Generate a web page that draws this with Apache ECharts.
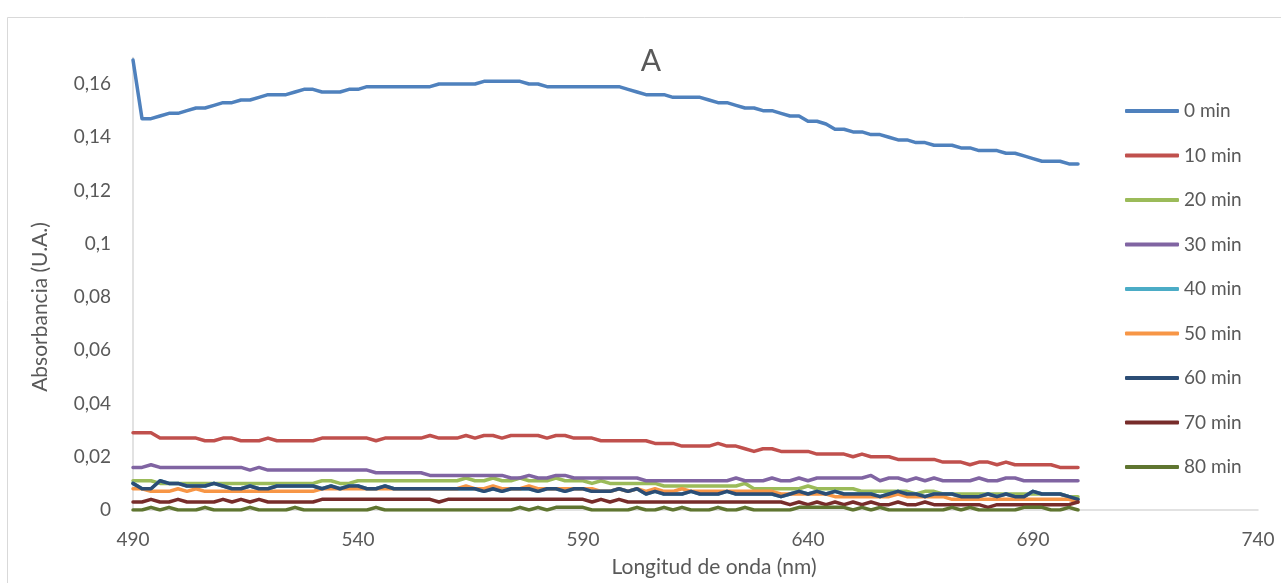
<!DOCTYPE html>
<html>
<head>
<meta charset="utf-8">
<title>Absorbancia</title>
<script src="https://cdn.jsdelivr.net/npm/echarts@6/dist/echarts.min.js"></script>
<style>
  html, body { margin: 0; padding: 0; background: #fff; }
  #chart { width: 1281px; height: 583px; }
</style>
</head>
<body>
<div id="chart"></div>
<script>
  // longitud de onda (nm), every 2 nm
  const wavelengths = [
    490, 492, 494, 496, 498, 500, 502, 504, 506, 508,
    510, 512, 514, 516, 518, 520, 522, 524, 526, 528,
    530, 532, 534, 536, 538, 540, 542, 544, 546, 548,
    550, 552, 554, 556, 558, 560, 562, 564, 566, 568,
    570, 572, 574, 576, 578, 580, 582, 584, 586, 588,
    590, 592, 594, 596, 598, 600, 602, 604, 606, 608,
    610, 612, 614, 616, 618, 620, 622, 624, 626, 628,
    630, 632, 634, 636, 638, 640, 642, 644, 646, 648,
    650, 652, 654, 656, 658, 660, 662, 664, 666, 668,
    670, 672, 674, 676, 678, 680, 682, 684, 686, 688,
    690, 692, 694, 696, 698, 700
  ];

  // absorbance in thousandths (mU.A.)
  const abs0 = [
    169, 147, 147, 148, 149, 149, 150, 151, 151, 152,
    153, 153, 154, 154, 155, 156, 156, 156, 157, 158,
    158, 157, 157, 157, 158, 158, 159, 159, 159, 159,
    159, 159, 159, 159, 160, 160, 160, 160, 160, 161,
    161, 161, 161, 161, 160, 160, 159, 159, 159, 159,
    159, 159, 159, 159, 159, 158, 157, 156, 156, 156,
    155, 155, 155, 155, 154, 153, 153, 152, 151, 151,
    150, 150, 149, 148, 148, 146, 146, 145, 143, 143,
    142, 142, 141, 141, 140, 139, 139, 138, 138, 137,
    137, 137, 136, 136, 135, 135, 135, 134, 134, 133,
    132, 131, 131, 131, 130, 130
  ];
  const abs10 = [
    29, 29, 29, 27, 27, 27, 27, 27, 26, 26,
    27, 27, 26, 26, 26, 27, 26, 26, 26, 26,
    26, 27, 27, 27, 27, 27, 27, 26, 27, 27,
    27, 27, 27, 28, 27, 27, 27, 28, 27, 28,
    28, 27, 28, 28, 28, 28, 27, 28, 28, 27,
    27, 27, 26, 26, 26, 26, 26, 26, 25, 25,
    25, 24, 24, 24, 24, 25, 24, 24, 23, 22,
    23, 23, 22, 22, 22, 22, 21, 21, 21, 21,
    20, 21, 20, 20, 20, 19, 19, 19, 19, 19,
    18, 18, 18, 17, 18, 18, 17, 18, 17, 17,
    17, 17, 17, 16, 16, 16
  ];
  const abs20 = [
    11, 11, 11, 10, 10, 10, 10, 10, 10, 10,
    10, 10, 10, 10, 10, 10, 10, 10, 10, 10,
    10, 11, 11, 10, 10, 11, 11, 11, 11, 11,
    11, 11, 11, 11, 11, 11, 11, 12, 11, 11,
    12, 11, 11, 12, 11, 11, 11, 12, 11, 11,
    11, 10, 11, 10, 10, 10, 10, 10, 10, 9,
    9, 9, 9, 9, 9, 9, 9, 9, 10, 8,
    8, 8, 8, 8, 8, 9, 8, 8, 8, 8,
    8, 7, 7, 7, 7, 7, 7, 6, 7, 7,
    6, 6, 6, 6, 6, 6, 6, 6, 6, 6,
    6, 6, 6, 6, 5, 5
  ];
  const abs30 = [
    16, 16, 17, 16, 16, 16, 16, 16, 16, 16,
    16, 16, 16, 15, 16, 15, 15, 15, 15, 15,
    15, 15, 15, 15, 15, 15, 15, 14, 14, 14,
    14, 14, 14, 13, 13, 13, 13, 13, 13, 13,
    13, 13, 12, 12, 13, 12, 12, 13, 13, 12,
    12, 12, 12, 12, 12, 12, 12, 11, 11, 11,
    11, 11, 11, 11, 11, 11, 11, 12, 11, 11,
    11, 12, 11, 11, 12, 11, 12, 12, 12, 12,
    12, 12, 13, 11, 12, 12, 11, 12, 11, 12,
    11, 11, 11, 11, 12, 11, 11, 12, 12, 11,
    11, 11, 11, 11, 11, 11
  ];
  const abs50 = [
    8, 8, 7, 7, 7, 8, 7, 8, 7, 7,
    7, 7, 7, 7, 7, 7, 7, 7, 7, 7,
    7, 8, 8, 8, 8, 8, 8, 8, 8, 8,
    8, 8, 8, 8, 8, 8, 8, 9, 8, 8,
    9, 8, 8, 8, 9, 8, 8, 8, 8, 8,
    8, 8, 7, 7, 8, 7, 8, 7, 8, 7,
    7, 8, 7, 7, 7, 7, 7, 7, 7, 7,
    7, 7, 6, 6, 6, 6, 6, 6, 5, 5,
    5, 5, 5, 5, 5, 6, 5, 5, 5, 5,
    5, 4, 4, 4, 4, 4, 4, 4, 4, 4,
    4, 4, 4, 4, 4, 3
  ];
  const abs60 = [
    10, 8, 8, 11, 10, 10, 9, 9, 9, 10,
    9, 8, 8, 9, 8, 8, 9, 9, 9, 9,
    9, 8, 9, 8, 9, 9, 8, 8, 9, 8,
    8, 8, 8, 8, 8, 8, 8, 8, 8, 7,
    8, 7, 8, 8, 8, 7, 8, 8, 7, 8,
    8, 7, 7, 7, 8, 7, 8, 6, 7, 6,
    6, 6, 7, 6, 6, 6, 7, 6, 6, 6,
    6, 6, 5, 6, 7, 6, 7, 6, 7, 6,
    6, 6, 6, 5, 6, 7, 6, 6, 5, 6,
    6, 6, 5, 5, 5, 6, 5, 6, 5, 5,
    7, 6, 6, 6, 5, 4
  ];
  // 40 min is not visible in the picture: it sits under the 60 min trace
  const abs40 = abs60.slice();
  const abs70 = [
    3, 3, 4, 3, 3, 4, 3, 3, 3, 3,
    4, 3, 4, 3, 4, 3, 3, 3, 3, 3,
    3, 4, 4, 4, 4, 4, 4, 4, 4, 4,
    4, 4, 4, 4, 3, 4, 4, 4, 4, 4,
    4, 4, 4, 4, 4, 4, 4, 4, 4, 4,
    4, 3, 4, 3, 4, 3, 3, 3, 3, 3,
    3, 3, 3, 3, 3, 3, 3, 3, 3, 3,
    3, 3, 3, 2, 3, 2, 3, 2, 3, 2,
    3, 2, 3, 2, 2, 3, 2, 2, 3, 2,
    2, 2, 2, 2, 2, 1, 2, 2, 2, 2,
    2, 2, 2, 2, 2, 3
  ];
  const abs80 = [
    0, 0, 1, 0, 1, 0, 0, 0, 1, 0,
    0, 0, 0, 1, 0, 0, 0, 0, 1, 0,
    0, 0, 0, 0, 0, 0, 0, 1, 0, 0,
    0, 0, 0, 0, 0, 0, 0, 0, 0, 0,
    0, 0, 0, 1, 0, 1, 0, 1, 1, 1,
    1, 0, 0, 0, 0, 0, 1, 0, 0, 1,
    0, 1, 0, 0, 0, 1, 0, 0, 1, 0,
    0, 0, 0, 0, 1, 1, 1, 1, 1, 1,
    0, 1, 0, 1, 0, 0, 0, 0, 0, 0,
    0, 1, 0, 1, 0, 0, 0, 0, 0, 1,
    1, 1, 0, 0, 1, 0
  ];

  const seriesNames = ['0 min', '10 min', '20 min', '30 min', '40 min', '50 min', '60 min', '70 min', '80 min'];
  const seriesValues = [abs0, abs10, abs20, abs30, abs40, abs50, abs60, abs70, abs80];
  const colors = ['#4F81BD', '#C0504D', '#9BBB59', '#8064A2', '#4BACC6', '#F79646', '#2C4D75', '#772C2A', '#5F7530'];

  const FONT = 'Lato, "Open Sans", sans-serif';
  const TEXT = '#595959';
  const AXIS = '#D9D9D9';

  let chart = echarts.init(document.getElementById('chart'), null, {renderer: 'canvas'});

  let series = seriesNames.map(function (name, k) {
    return {
      name: name,
      type: 'line',
      symbol: 'none',
      animation: false,
      lineStyle: {width: 3.5, color: colors[k], cap: 'round', join: 'round'},
      itemStyle: {color: colors[k]},
      data: wavelengths.map(function (w, i) { return [w, seriesValues[k][i] / 1000]; })
    };
  });

  let options = {
    backgroundColor: '#fff',
    animation: false,
    grid: {left: 133, right: 23, top: 57.4, bottom: 73, containLabel: false},
    xAxis: {
      type: 'value',
      min: 490,
      max: 740,
      interval: 50,
      axisLine: {show: true, lineStyle: {color: AXIS, width: 1.5}},
      axisTick: {show: false},
      splitLine: {show: false},
      axisLabel: {color: TEXT, fontSize: 19, fontFamily: FONT, margin: 20}
    },
    yAxis: {
      type: 'value',
      min: 0,
      max: 0.17,
      interval: 0.02,
      axisLine: {show: true, lineStyle: {color: AXIS, width: 1.5}},
      axisTick: {show: false},
      splitLine: {show: false},
      axisLabel: {
        color: TEXT, fontSize: 19, fontFamily: FONT, margin: 22, showMaxLabel: false,
        formatter: function (v) { return String(+v.toFixed(2)).replace('.', ','); }
      }
    },
    legend: {
      orient: 'vertical',
      left: 1125,
      top: 101,
      padding: 0,
      icon: 'roundRect',
      itemWidth: 54,
      itemHeight: 4,
      itemGap: 24.5,
      textStyle: {color: TEXT, fontSize: 19, fontFamily: FONT, lineHeight: 20},
      data: seriesNames
    },
    graphic: [
      {type: 'rect', silent: true, z: -10, shape: {x: 7.5, y: 17.5, width: 1300, height: 600},
        style: {fill: 'none', stroke: AXIS, lineWidth: 1}},
      {type: 'text', silent: true, x: 651, y: 61,
        style: {text: 'A', fill: TEXT, fontSize: 30, fontFamily: FONT, align: 'center', verticalAlign: 'middle'}},
      {type: 'text', silent: true, x: 714, y: 567,
        style: {text: 'Longitud de onda (nm)', fill: TEXT, fontSize: 21, fontFamily: FONT, align: 'center', verticalAlign: 'middle'}},
      {type: 'text', silent: true, x: 40, y: 307, rotation: Math.PI / 2,
        style: {text: 'Absorbancia (U.A.)', fill: TEXT, fontSize: 21, fontFamily: FONT, align: 'center', verticalAlign: 'middle'}}
    ],
    series: series
  };
  chart.setOption(options);
</script>
</body>
</html>
